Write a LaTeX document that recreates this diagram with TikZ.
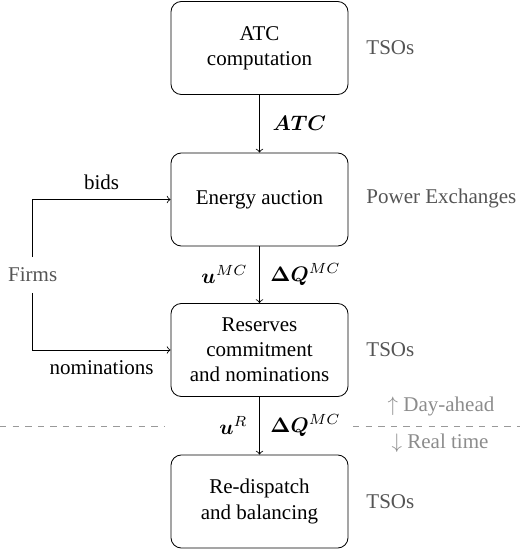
\documentclass[tikz,border=0pt]{standalone}
\usepackage{amsmath}
\usepackage{bm}
\usepackage{fontspec}
\setmainfont{Liberation Serif}
\usetikzlibrary{calc}
\begin{document}
\begin{tikzpicture}[x=0.476pt,y=-0.476pt,
  box/.style={draw, rounded corners=5pt, minimum width=84.3pt, minimum height=44.3pt, align=center, inner sep=2pt},
  side/.style={text=black!67, anchor=west, inner sep=0pt},
  lbl/.style={inner sep=0pt},
  tl/.style={text=black!45, inner sep=0pt},
  dashline/.style={draw=black!40, dashed}
]
\useasboundingbox (0,0) rectangle (520,554);
\node[box] (b1) at (259.5,48) {ATC\\computation};
\node[box] (b2) at (259.5,199.5) {Energy auction};
\node[box] (b3) at (259.5,350) {Reserves\\commitment\\and nominations};
\node[box] (b4) at (259.5,501.5) {Re-dispatch\\and balancing};

\node[side] (t1) at (366,48) {TSOs};
\node[side] (pe) at (366,198.5) {Power Exchanges};
\node[side] (t3) at (366,350) {TSOs};
\node[side] (t4) at (366,501.5) {TSOs};

\draw[->] (b1) -- node[lbl, anchor=west, xshift=6pt] (atc) {$\bm{ATC}$} (b2);
\draw[->] (b2) -- node[lbl, anchor=east, xshift=-5.5pt] (umc) {$\bm{u}^{MC}$}
                  node[lbl, anchor=west, xshift=5pt] (dq1) {$\bm{\Delta Q}^{MC}$} (b3);
\draw[->] (b3) -- node[lbl, anchor=east, xshift=-5.5pt] (ur) {$\bm{u}^{R}$}
                  node[lbl, anchor=west, xshift=5pt] (dq2) {$\bm{\Delta Q}^{MC}$} (b4);

\node[side, anchor=center, inner ysep=5pt] (firms) at (32.7,275) {Firms};
\draw[->] (firms.north) |- node[pos=0.75, above=1pt] (bids) {bids} (b2.west);
\draw[->] (firms.south) |- node[pos=0.75, below=1.5pt] (nom) {nominations} (b3.west);

\coordinate (dl1) at (0,426.7);
\coordinate (dl2) at (165,426.7);
\coordinate (dr1) at (353,426.7);
\coordinate (dr2) at (520,426.7);
\draw[dashline] (dl1) -- (dl2);
\draw[dashline] (dr1) -- (dr2);
\node[tl] (da) at (441,406) {$\uparrow$ Day-ahead};
\node[tl] (rt) at (440,443) {$\downarrow$ Real time};
\end{tikzpicture}
\end{document}
